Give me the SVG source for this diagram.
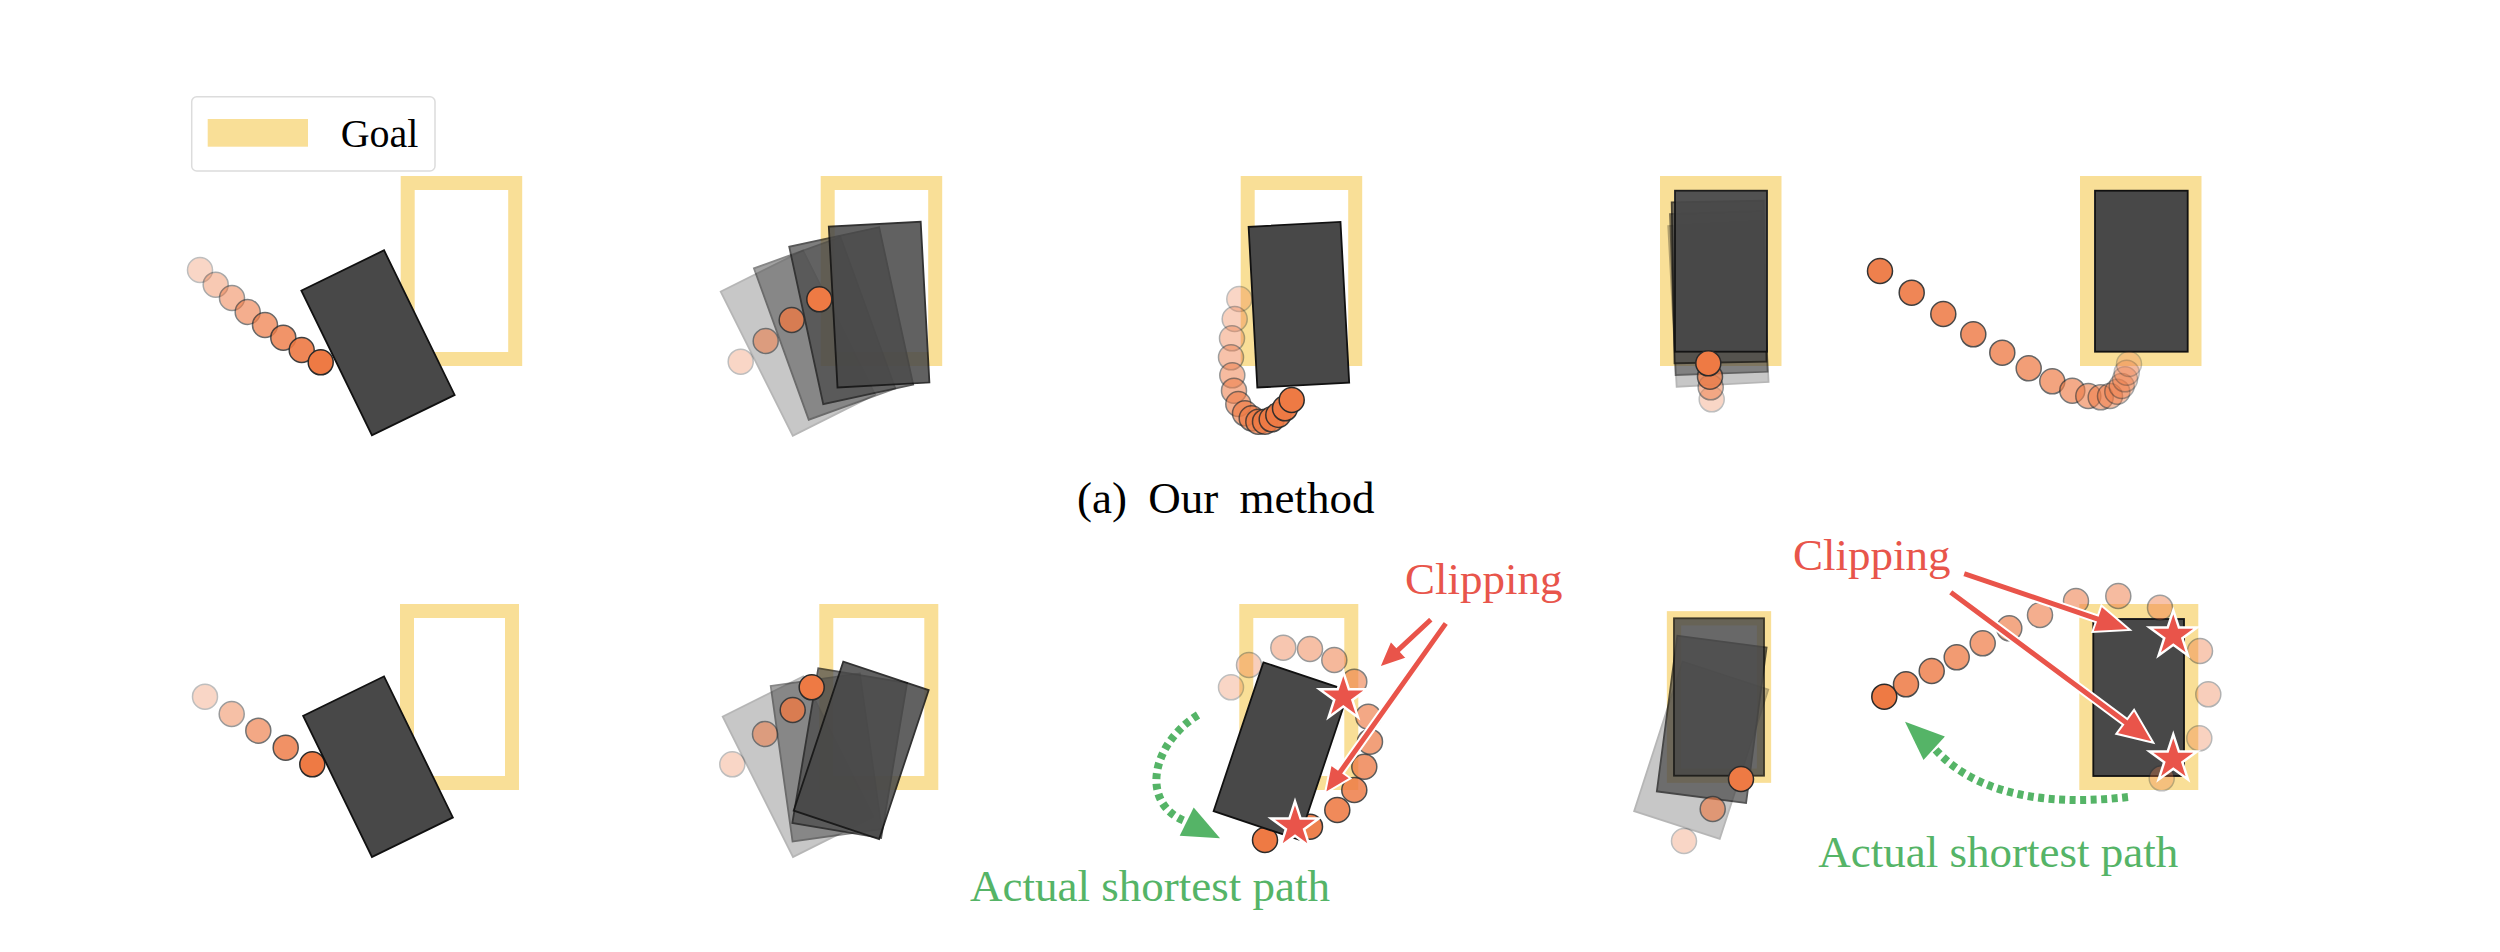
<svg xmlns="http://www.w3.org/2000/svg" xmlns:xlink="http://www.w3.org/1999/xlink" width="2500" height="952" viewBox="0 0 2500 952">
<style>
.goal{fill:none;stroke:#F9DF97;stroke-width:14}
.box{fill:#484848;stroke:#111;stroke-width:1.8}
.dot{fill:#EE7A44;stroke:#2a2a2a;stroke-width:1.5}
.star{fill:#E9544A;stroke:#fff;stroke-width:2.5;stroke-linejoin:miter}
.rarrow{fill:#E9544A;stroke:#fff;stroke-width:2;stroke-linejoin:miter}
.gpath{fill:none;stroke:#55B467;stroke-width:8;stroke-dasharray:6 4.5}
.ghead{fill:#55B467;stroke:none}
.lbl{font-family:"Liberation Serif","Times New Roman",serif;font-size:45px}
.red{fill:#E8554B}
.green{fill:#55B467}
</style>
<defs>
<path id="star" d="M0,-25 L5.613,-7.726 L23.776,-7.725 L9.083,2.951 L14.695,20.225 L0,9.55 L-14.695,20.225 L-9.083,2.951 L-23.776,-7.725 L-5.613,-7.726 Z"/>
</defs>
<rect width="2500" height="952" fill="#fff"/>

<g id="legend">
<rect x="191.7" y="96.7" width="243.3" height="74.3" rx="5" fill="#fff" stroke="#dcdcdc" stroke-width="1.5"/>
<rect x="207.7" y="119" width="100.3" height="27.7" fill="#F9DF97"/>
<text class="lbl" x="340.7" y="146.7" font-size="40" style="font-size:40px" fill="#000">Goal</text>
</g>

<!-- Top row -->
<g id="top-1">
<rect class="goal" x="407.7" y="183" width="107.5" height="176"/>
<circle class="dot" cx="200" cy="270" r="12.5" opacity="0.3"/>
<circle class="dot" cx="215.7" cy="284.7" r="12.5" opacity="0.4"/>
<circle class="dot" cx="232" cy="298" r="12.5" opacity="0.5"/>
<circle class="dot" cx="247.7" cy="312" r="12.5" opacity="0.6"/>
<circle class="dot" cx="265" cy="325" r="12.5" opacity="0.7"/>
<circle class="dot" cx="283.3" cy="337.7" r="12.5" opacity="0.8"/>
<circle class="dot" cx="301.7" cy="350" r="12.5" opacity="0.9"/>
<circle class="dot" cx="320.7" cy="362.3" r="12.5" opacity="1"/>
<rect class="box" x="-46" y="-80.5" width="92" height="161" transform="translate(378 342.8) rotate(-26)"/>
</g>

<g id="top-2">
<rect class="goal" x="827.7" y="183" width="107.5" height="176"/>
<rect class="box" x="-46" y="-80.5" width="92" height="161" opacity="0.3" transform="translate(797.9 343.1) rotate(-26.6)"/>
<rect class="box" x="-46" y="-80.5" width="92" height="161" opacity="0.5" transform="translate(824.6 328.4) rotate(-19.9)"/>
<rect class="box" x="-46" y="-80.5" width="92" height="161" opacity="0.7" transform="translate(851.2 315.7) rotate(-12.2)"/>
<rect class="box" x="-46" y="-80.5" width="92" height="161" opacity="0.86" transform="translate(879.1 304.6) rotate(-3.1)"/>
<circle class="dot" cx="740.7" cy="361.7" r="12.5" opacity="0.3"/>
<circle class="dot" cx="765.7" cy="341" r="12.5" opacity="0.55"/>
<circle class="dot" cx="791.7" cy="320" r="12.5" opacity="0.78"/>
<circle class="dot" cx="819.3" cy="299.3" r="12.5" opacity="1"/>
</g>

<g id="top-3">
<rect class="goal" x="1247.7" y="183" width="107.5" height="176"/>
<circle class="dot" cx="1239.3" cy="299" r="12.5" opacity="0.3"/>
<circle class="dot" cx="1234.7" cy="319" r="12.5" opacity="0.35"/>
<circle class="dot" cx="1232" cy="338.3" r="12.5" opacity="0.4"/>
<circle class="dot" cx="1231" cy="357.3" r="12.5" opacity="0.45"/>
<circle class="dot" cx="1232.3" cy="375.3" r="12.5" opacity="0.5"/>
<circle class="dot" cx="1234" cy="390.7" r="12.5" opacity="0.55"/>
<circle class="dot" cx="1238.3" cy="404" r="12.5" opacity="0.6"/>
<circle class="dot" cx="1245" cy="413.3" r="12.5" opacity="0.65"/>
<circle class="dot" cx="1251.7" cy="418.3" r="12.5" opacity="0.7"/>
<circle class="dot" cx="1258.3" cy="421.7" r="12.5" opacity="0.75"/>
<circle class="dot" cx="1265" cy="421.7" r="12.5" opacity="0.8"/>
<circle class="dot" cx="1271.7" cy="419.3" r="12.5" opacity="0.85"/>
<circle class="dot" cx="1278.3" cy="415" r="12.5" opacity="0.9"/>
<circle class="dot" cx="1285" cy="408.3" r="12.5" opacity="0.95"/>
<circle class="dot" cx="1291.7" cy="400" r="12.5" opacity="1"/>
<rect class="box" x="-46" y="-80.5" width="92" height="161" transform="translate(1298.9 304.7) rotate(-3.1)"/>
</g>

<g id="top-4">
<rect class="goal" x="1667" y="183" width="107.5" height="176"/>
<rect class="box" x="-46" y="-80.5" width="92" height="161" opacity="0.3" transform="translate(1718.4 304) rotate(-3)"/>
<rect class="box" x="-46" y="-80.5" width="92" height="161" opacity="0.55" transform="translate(1718.8 292.9) rotate(-2)"/>
<rect class="box" x="-46" y="-80.5" width="92" height="161" opacity="0.75" transform="translate(1719.1 282) rotate(-1)"/>
<rect class="box" x="1675" y="190.7" width="92" height="161" opacity="0.95"/>
<circle class="dot" cx="1711.7" cy="399.3" r="12.5" opacity="0.3"/>
<circle class="dot" cx="1710.7" cy="387.3" r="12.5" opacity="0.5"/>
<circle class="dot" cx="1710" cy="376.7" r="12.5" opacity="0.75"/>
<circle class="dot" cx="1708.3" cy="363.3" r="12.5" opacity="1"/>
</g>

<g id="top-5">
<rect class="goal" x="2087" y="183" width="107.5" height="176"/>
<rect class="box" x="2095" y="190.7" width="92.7" height="161"/>
<circle class="dot" cx="1880" cy="271" r="12.5" opacity="0.95"/>
<circle class="dot" cx="1911.7" cy="292.7" r="12.5" opacity="0.9"/>
<circle class="dot" cx="1943.3" cy="314" r="12.5" opacity="0.86"/>
<circle class="dot" cx="1973.3" cy="334.3" r="12.5" opacity="0.81"/>
<circle class="dot" cx="2002.3" cy="352.7" r="12.5" opacity="0.77"/>
<circle class="dot" cx="2028.7" cy="368.3" r="12.5" opacity="0.72"/>
<circle class="dot" cx="2052.3" cy="381.3" r="12.5" opacity="0.68"/>
<circle class="dot" cx="2072.3" cy="390.7" r="12.5" opacity="0.63"/>
<circle class="dot" cx="2088.3" cy="396" r="12.5" opacity="0.59"/>
<circle class="dot" cx="2100.7" cy="397.3" r="12.5" opacity="0.54"/>
<circle class="dot" cx="2110" cy="396" r="12.5" opacity="0.5"/>
<circle class="dot" cx="2117.3" cy="391.7" r="12.5" opacity="0.45"/>
<circle class="dot" cx="2121.7" cy="386" r="12.5" opacity="0.41"/>
<circle class="dot" cx="2125" cy="379.3" r="12.5" opacity="0.36"/>
<circle class="dot" cx="2126.7" cy="372.7" r="12.5" opacity="0.32"/>
<circle class="dot" cx="2129" cy="364" r="12.5" opacity="0.28"/>
</g>

<g id="caption-a">
<text class="lbl" x="1077" y="513" fill="#000" word-spacing="10">(a) Our method</text>
</g>

<!-- Bottom row -->
<g id="bottom-1">
<rect class="goal" x="407" y="611" width="105" height="172"/>
<circle class="dot" cx="205" cy="696.7" r="12.5" opacity="0.3"/>
<circle class="dot" cx="231.7" cy="714" r="12.5" opacity="0.47"/>
<circle class="dot" cx="258.3" cy="730.7" r="12.5" opacity="0.65"/>
<circle class="dot" cx="285.7" cy="747.7" r="12.5" opacity="0.82"/>
<circle class="dot" cx="312.3" cy="764.3" r="12.5" opacity="1"/>
<rect class="box" x="-45" y="-78.5" width="90" height="157" transform="translate(378 766.7) rotate(-26)"/>
</g>

<g id="bottom-2">
<rect class="goal" x="826.3" y="611" width="105" height="172"/>
<rect class="box" x="-45" y="-78.5" width="90" height="157" opacity="0.3" transform="translate(798.1 766.7) rotate(-26.6)"/>
<rect class="box" x="-45" y="-78.5" width="90" height="157" opacity="0.5" transform="translate(826.2 757.4) rotate(-8)"/>
<rect class="box" x="-45" y="-78.5" width="90" height="157" opacity="0.7" transform="translate(849.7 753.1) rotate(9.5)"/>
<rect class="box" x="-45" y="-78.5" width="90" height="157" opacity="0.86" transform="translate(861.2 750.4) rotate(18.4)"/>
<circle class="dot" cx="732.3" cy="764.3" r="12.5" opacity="0.3"/>
<circle class="dot" cx="765" cy="734" r="12.5" opacity="0.55"/>
<circle class="dot" cx="792.7" cy="710" r="12.5" opacity="0.8"/>
<circle class="dot" cx="811.7" cy="687.3" r="12.5" opacity="1"/>
</g>

<g id="bottom-3">
<rect class="goal" x="1246.3" y="611" width="105" height="172"/>
<circle class="dot" cx="1231" cy="687.3" r="12.5" opacity="0.3"/>
<circle class="dot" cx="1249" cy="665" r="12.5" opacity="0.36"/>
<circle class="dot" cx="1283.3" cy="647.7" r="12.5" opacity="0.42"/>
<circle class="dot" cx="1310" cy="649" r="12.5" opacity="0.48"/>
<circle class="dot" cx="1334.3" cy="660" r="12.5" opacity="0.53"/>
<circle class="dot" cx="1354.3" cy="681.7" r="12.5" opacity="0.59"/>
<circle class="dot" cx="1368.3" cy="716.7" r="12.5" opacity="0.65"/>
<circle class="dot" cx="1370" cy="741.7" r="12.5" opacity="0.71"/>
<circle class="dot" cx="1364.3" cy="766.7" r="12.5" opacity="0.77"/>
<circle class="dot" cx="1354.3" cy="790" r="12.5" opacity="0.83"/>
<circle class="dot" cx="1337.3" cy="810" r="12.5" opacity="0.88"/>
<circle class="dot" cx="1310" cy="826.7" r="12.5" opacity="0.94"/>
<circle class="dot" cx="1265" cy="840" r="12.5" opacity="1"/>
<rect class="box" x="-45" y="-78.5" width="90" height="157" transform="translate(1281.2 751) rotate(18.5)"/>
<use href="#star" xlink:href="#star" class="star" transform="translate(1343.3 697)"/>
<use href="#star" xlink:href="#star" class="star" transform="translate(1295 826.3)"/>
</g>

<g id="bottom-4">
<rect class="goal" x="1674" y="618.3" width="90" height="157.4" style="stroke-width:14.3"/>
<rect class="box" x="-45" y="-78.5" width="90" height="157" opacity="0.3" transform="translate(1701.2 750.3) rotate(18)"/>
<rect class="box" x="-45" y="-78.5" width="90" height="157" opacity="0.7" transform="translate(1711.7 719.4) rotate(7.5)"/>
<rect class="box" x="1674" y="618.3" width="90" height="157.4" opacity="0.82"/>
<circle class="dot" cx="1684" cy="841" r="12.5" opacity="0.3"/>
<circle class="dot" cx="1712.7" cy="809" r="12.5" opacity="0.62"/>
<circle class="dot" cx="1741" cy="779" r="12.5" opacity="1"/>
</g>

<g id="bottom-5">
<rect class="goal" x="2086.3" y="611" width="105" height="172"/>
<rect class="box" x="2093.3" y="619" width="90.7" height="157"/>
<circle class="dot" cx="1884.3" cy="696.7" r="12.5" opacity="1"/>
<circle class="dot" cx="1906" cy="684.3" r="12.5" opacity="0.85"/>
<circle class="dot" cx="1931.7" cy="671" r="12.5" opacity="0.8"/>
<circle class="dot" cx="1956.7" cy="657.3" r="12.5" opacity="0.75"/>
<circle class="dot" cx="1982.7" cy="643.3" r="12.5" opacity="0.7"/>
<circle class="dot" cx="2009.3" cy="628.3" r="12.5" opacity="0.65"/>
<circle class="dot" cx="2040" cy="615" r="12.5" opacity="0.6"/>
<circle class="dot" cx="2076" cy="601" r="12.5" opacity="0.55"/>
<circle class="dot" cx="2118.3" cy="596" r="12.5" opacity="0.5"/>
<circle class="dot" cx="2160" cy="607.7" r="12.5" opacity="0.45"/>
<circle class="dot" cx="2200" cy="651" r="12.5" opacity="0.4"/>
<circle class="dot" cx="2208.3" cy="694.3" r="12.5" opacity="0.36"/>
<circle class="dot" cx="2199.3" cy="738.3" r="12.5" opacity="0.33"/>
<circle class="dot" cx="2161.7" cy="778.3" r="12.5" opacity="0.3"/>
<use href="#star" xlink:href="#star" class="star" transform="translate(2173.3 635.3)"/>
<use href="#star" xlink:href="#star" class="star" transform="translate(2173.3 759.3)"/>
</g>

<g id="connectors">
<polygon class="rarrow" points="1429.1,616.4 1396.4,646.8 1390.6,640.6 1379,667.8 1407,658.2 1401.2,652 1433.9,621.6"/>
<polygon class="rarrow" points="1443.5,620.7 1337.8,769.3 1330.8,764.4 1325,793.3 1350.4,778.3 1343.5,773.3 1449.2,624.7"/>
<polygon class="rarrow" points="1962.2,576.6 2095.8,622 2092.4,632 2130,630 2101.4,605.5 2098,615.4 1964.4,570"/>
<polygon class="rarrow" points="1947.9,594.5 2123.1,724.6 2116.3,733.8 2153.3,742.7 2134.1,709.8 2127.3,719 1952.1,588.9"/>
<path class="gpath" d="M1198,715 C1150,745 1140,805 1186.7,821.7"/>
<polygon class="ghead" points="1220,838.3 1179.7,835.8 1193.7,807.6"/>
<path class="gpath" d="M2128,797 C2060,805 1980,800 1934.2,748.3"/>
<polygon class="ghead" points="1905,721.7 1944.9,736.6 1923.5,760.1"/>
</g>

<g id="labels">
<text class="lbl red" x="1405" y="594">Clipping</text>
<text class="lbl red" x="1793" y="570">Clipping</text>
<text class="lbl green" x="970" y="901">Actual shortest path</text>
<text class="lbl green" x="1818.3" y="866.7">Actual shortest path</text>
</g>
</svg>
